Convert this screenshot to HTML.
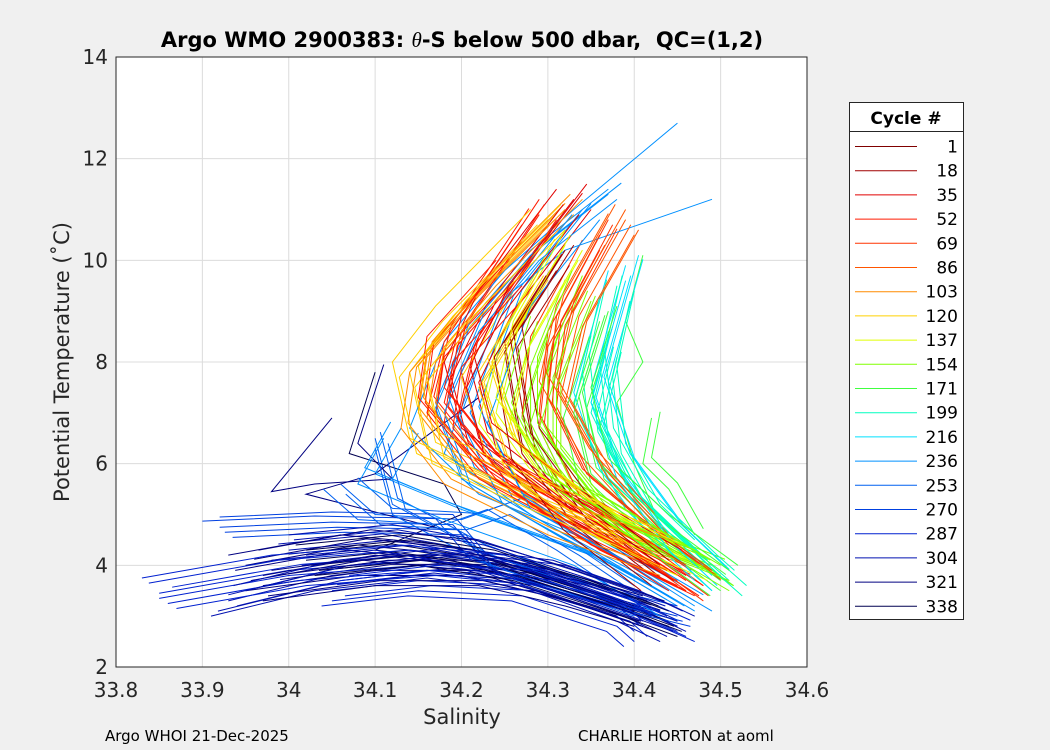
<!DOCTYPE html>
<html><head><meta charset="utf-8"><style>
body{margin:0;background:#f0f0f0;width:1050px;height:750px;overflow:hidden;font-family:"DejaVu Sans","Liberation Sans",sans-serif}
svg{display:block}
</style></head><body>
<svg id="chart" width="1050" height="750">
<rect x="0" y="0" width="1050" height="750" fill="#f0f0f0"/>
<rect x="116" y="57" width="691" height="610" fill="#fff"/>
<g id="grid"></g>
<g id="lines" fill="none" stroke-width="1"></g>
<rect x="116" y="57" width="691" height="610" fill="none" stroke="#262626" stroke-width="1"/>
<g id="ticks" font-size="20" fill="#262626"></g>
<text x="462" y="47" text-anchor="middle" font-size="21" font-weight="bold" fill="#000" style="white-space:pre">Argo WMO 2900383: <tspan font-style="italic" font-weight="normal" font-family="Liberation Serif, serif">θ</tspan>-S below 500 dbar,  QC=(1,2)</text>
<text x="462" y="724" text-anchor="middle" font-size="21" fill="#262626">Salinity</text>
<text transform="translate(69,362) rotate(-90)" text-anchor="middle" font-size="21" fill="#262626">Potential Temperature (˚C)</text>
<text x="105" y="741" font-size="15" fill="#000">Argo WHOI 21-Dec-2025</text>
<text x="578" y="741" font-size="15" fill="#000">CHARLIE HORTON at aoml</text>
<g id="legend"></g>
</svg>
<script>
const cycles=["1","18","35","52","69","86","103","120","137","154","171","199","216","236","253","270","287","304","321","338"];
const colors=["#800000","#a00000","#e00000","#ff1a00","#ff3300","#ff5500","#ff8c00","#ffd000","#e0ff00","#80ff00","#40ff40","#00ffc0","#00e0ff","#0090ff","#0060f0","#0040e0","#0020d0","#0010b0","#000080","#000050"];
const xTicks=[33.8,33.9,34,34.1,34.2,34.3,34.4,34.5,34.6];
const yTicks=[2,4,6,8,10,12,14];
const profileColor=[2,3,4,5,1,3, 6,7,8,7, 9,10,9,10,10, 11,12,11, 13,13,13,13,13, 14,15,14, 16,17,18,17,18,19,16, 18,19,18];
const profileCopies=[7,7,7,7,7,7, 7,7,7,7, 7,7,7,1,2, 6,6,6, 1,4,1,4,4, 4,5,4, 7,7,7,7,7,7,7, 1,1,1];
const profiles=[
"34.33,11.2 34.24,9.2 34.20,7.8 34.22,6.5 34.32,5.2 34.44,4.0",
"34.29,10.9 34.20,8.6 34.18,7.2 34.24,5.9 34.36,4.8 34.46,3.7",
"34.36,10.5 34.30,8.6 34.29,7.0 34.33,5.6 34.40,4.6 34.48,3.6",
"34.39,10.8 34.33,9.0 34.31,7.5 34.36,6.0 34.43,4.7",
"34.31,10.0 34.25,8.4 34.27,6.4 34.33,5.0 34.42,3.8",
"34.26,9.7 34.18,8.2 34.17,7.0 34.22,6.0 34.34,4.6 34.45,3.7",
"34.32,11.0 34.22,9.3 34.16,8.1 34.15,7.0 34.20,5.9 34.32,4.9 34.45,4.1",
"34.30,10.8 34.19,8.9 34.14,7.8 34.16,6.3 34.26,5.5 34.40,4.5",
"34.32,10.3 34.26,8.5 34.24,7.0 34.29,5.8 34.38,4.7 34.47,4.0",
"34.28,9.5 34.22,7.8 34.25,6.2 34.34,5.0 34.44,4.2",
"34.34,9.5 34.30,7.8 34.30,6.5 34.36,5.2 34.46,4.2 34.50,3.8",
"34.36,8.8 34.33,7.2 34.35,5.8 34.42,4.7 34.50,3.7",
"34.30,8.6 34.27,7.0 34.31,5.6 34.40,4.6 34.49,4.0",
"34.41,10.1 34.39,8.8 34.41,8.0 34.38,7.2 34.40,6.0 34.43,4.8 34.43,4.6",
"34.42,6.9 34.41,6.0 34.44,5.5 34.46,4.9 34.47,4.6",
"34.38,9.5 34.36,8.0 34.37,6.5 34.41,5.3 34.49,4.0 34.51,3.7",
"34.39,9.9 34.35,7.5 34.38,6.0 34.44,4.6 34.49,3.8",
"34.37,8.4 34.35,7.0 34.39,5.6 34.47,4.3",
"34.45,12.7 34.33,11.0 34.25,9.8 34.18,8.4 34.14,6.7 34.22,5.4 34.36,4.4 34.47,3.2",
"34.37,11.4 34.28,10.2 34.21,8.8 34.17,7.2 34.20,5.8 34.30,4.8 34.44,3.5",
"34.49,11.2 34.32,10.2 34.26,9.4 34.22,8.0 34.18,6.2 34.28,5.0 34.42,3.6",
"34.34,11.0 34.26,9.3 34.21,7.0 34.26,5.3 34.40,4.0 34.47,3.3",
"34.13,6.7 34.10,5.8 34.20,5.1 34.35,4.2 34.45,3.2",
"34.06,5.6 34.10,5.0 34.20,4.9 34.25,5.2 34.33,4.4 34.40,3.6",
"33.92,4.75 34.05,4.85 34.19,4.8 34.23,4.0 34.33,3.5 34.45,3.0",
"34.10,6.5 34.12,5.2 34.22,4.3 34.30,3.8 34.40,3.2",
"33.85,3.45 34.00,3.9 34.15,4.1 34.27,3.9 34.37,3.4 34.45,2.8",
"33.93,3.3 34.05,3.8 34.18,4.05 34.30,3.8 34.40,3.2 34.45,2.8",
"33.95,4.0 34.08,4.4 34.20,4.2 34.30,3.7 34.42,3.0",
"34.00,4.3 34.12,4.5 34.22,4.2 34.33,3.6 34.43,3.0",
"33.97,3.6 34.10,3.9 34.22,3.9 34.32,3.5 34.40,3.1",
"34.02,4.1 34.14,4.3 34.25,4.0 34.36,3.4 34.44,2.9",
"34.05,3.5 34.15,3.7 34.27,3.6 34.38,3.0 34.40,2.7",
"34.11,7.95 34.08,6.4 34.12,5.7 34.03,5.6 33.98,5.45 34.05,6.9",
"34.10,7.8 34.07,6.2 34.18,5.6 34.20,5.0 34.10,4.3 34.25,4.0",
"34.22,7.3 34.10,5.8 34.02,5.4 34.18,4.7"];
const jitterS=[0,0.01,-0.012,0.02,-0.02,0.006,0.015];
const jitterT=[0,0.12,-0.1,-0.2,0.2,-0.3,0.3];
const NS="http://www.w3.org/2000/svg";
const X=s=>116+(s-33.8)*691/0.8;
const Y=t=>667-(t-2)*610/12;
function mk(tag,attrs,parent){const e=document.createElementNS(NS,tag);for(const k in attrs)e.setAttribute(k,attrs[k]);parent.appendChild(e);return e;}
const grid=document.getElementById('grid'),ticks=document.getElementById('ticks');
xTicks.forEach(v=>{
 if(v>33.8&&v<34.6){const l=mk('line',{x1:X(v),x2:X(v),y1:57,y2:667,stroke:'#dcdcdc'},grid);
 
 }
 const t=mk('text',{x:X(v),y:697,'text-anchor':'middle'},ticks);t.textContent=String(v);
 
 
});
yTicks.forEach(v=>{
 if(v>2&&v<14){const l=mk('line',{x1:116,x2:807,y1:Y(v),y2:Y(v),stroke:'#dcdcdc'},grid);
 
 }
 const t=mk('text',{x:108,y:Y(v)+7,'text-anchor':'end'},ticks);t.textContent=String(v);
 
 
});
const lines=document.getElementById('lines');
for(let j=0;j<jitterS.length;j++){
 profiles.forEach((p,i)=>{
  if(j>=profileCopies[i])return;
  const pts=p.split(' ').map(q=>{const [s,t]=q.split(',').map(Number);return X(s+jitterS[(j+i)%jitterS.length]*(j?1:0))+','+Y(t+jitterT[j]);}).join(' ');
  const pl=mk('polyline',{points:pts,stroke:colors[profileColor[i]]},lines);
  
  
 });
}
const lg=document.getElementById('legend');
mk('rect',{x:849.5,y:102.5,width:114,height:517,fill:'#fff',stroke:'#262626'},lg);
mk('line',{x1:849.5,x2:963.5,y1:131.5,y2:131.5,stroke:'#262626'},lg);
const h=mk('text',{x:906,y:124,'text-anchor':'middle','font-size':17,'font-weight':'bold'},lg);h.textContent='Cycle #';


cycles.forEach((c,i)=>{
 const y=146.5+i*24.2;
 const g=mk('g',{},lg);
 
 
 mk('line',{x1:855,x2:917,y1:y,y2:y,stroke:colors[i]},g);
 const t=mk('text',{x:958,y:y+6,'text-anchor':'end','font-size':17,fill:'#000'},g);t.textContent=c;
});
</script>
</body></html>
